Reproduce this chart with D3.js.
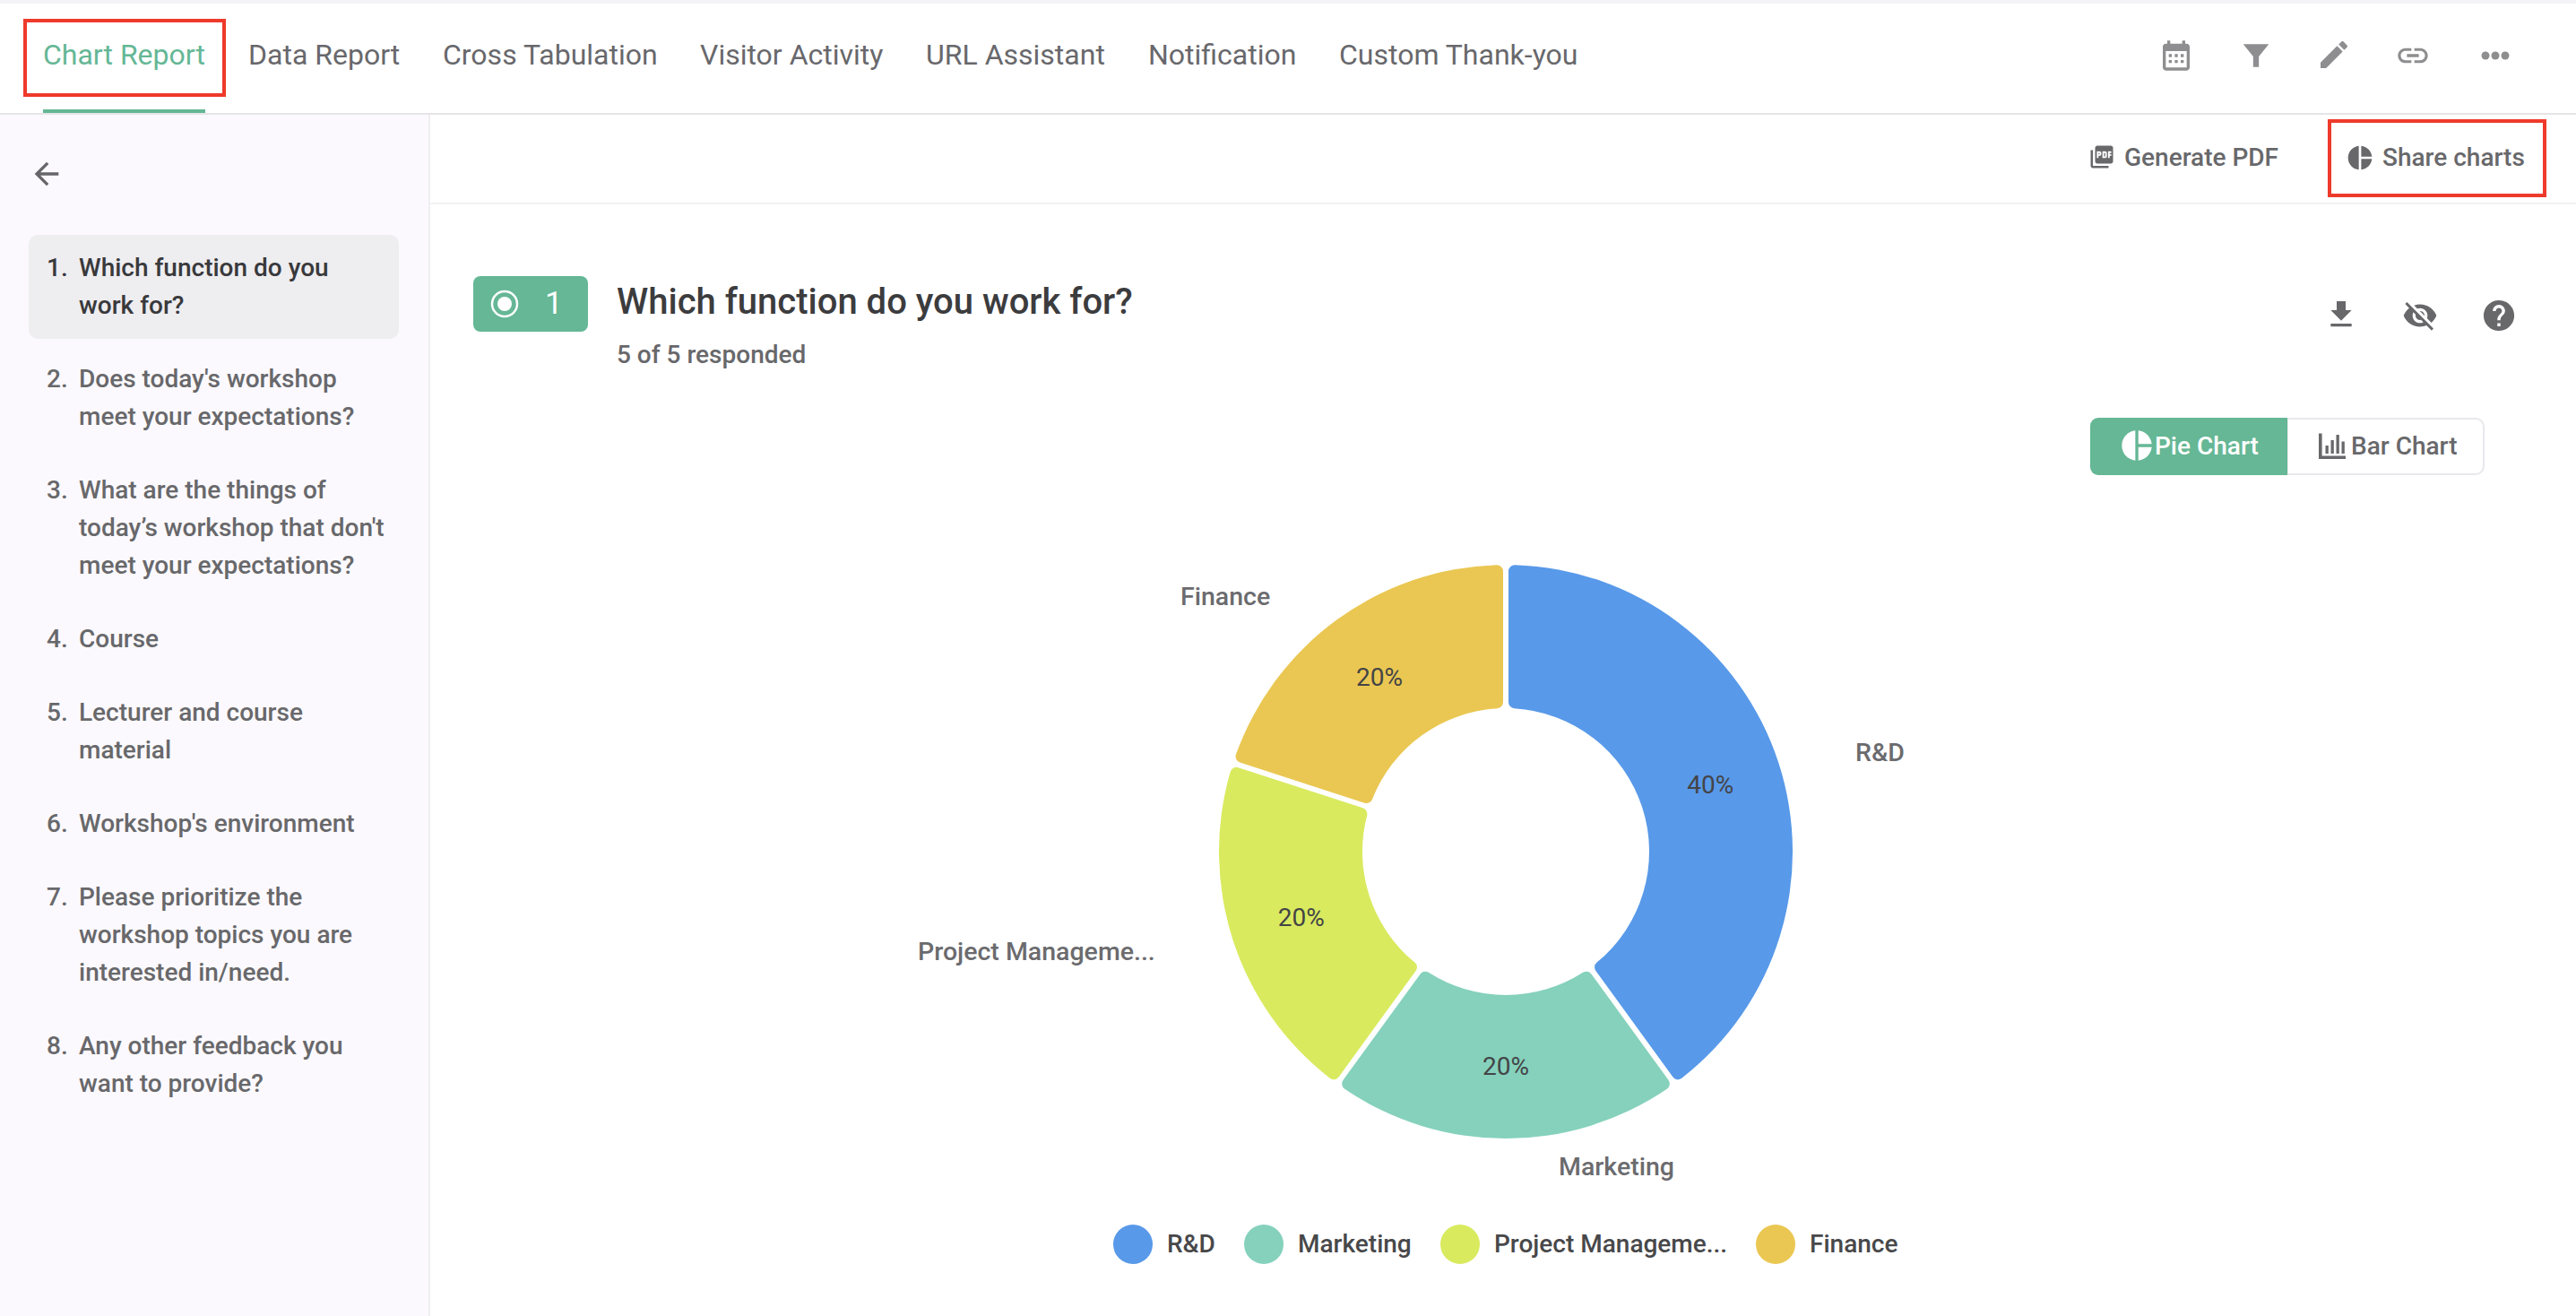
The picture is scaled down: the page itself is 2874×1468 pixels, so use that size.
<!DOCTYPE html>
<html>
<head>
<meta charset="utf-8">
<title>Chart Report</title>
<script src="https://cdn.jsdelivr.net/npm/d3@7"></script>
<style>
  html, body { margin: 0; padding: 0; background: #fff; }
  svg { display: block; }
  text { font-family: Roboto, sans-serif; }
</style>
</head>
<body>
<div id="page"></div>
<script>
// Chart values
const categories = ["R&D", "Marketing", "Project Manageme...", "Finance"];
const responses = [2, 1, 1, 1];
const sliceColors = ["#5899e9", "#85d1bc", "#d9ea5f", "#eac752"];

// Page texts
const navTabs = ["Chart Report", "Data Report", "Cross Tabulation", "Visitor Activity", "URL Assistant", "Notification", "Custom Thank-you"];
const questions = [
  ["Which function do you", "work for?"],
  ["Does today's workshop", "meet your expectations?"],
  ["What are the things of", "today’s workshop that don't", "meet your expectations?"],
  ["Course"],
  ["Lecturer and course", "material"],
  ["Workshop's environment"],
  ["Please prioritize the", "workshop topics you are", "interested in/need."],
  ["Any other feedback you", "want to provide?"]
];

const width = 2874, height = 1468;
const green = "#65b795", red = "#ee3a2b";

const svg = d3.select("#page").append("svg")
    .attr("width", width)
    .attr("height", height)
    .attr("viewBox", `0 0 ${width} ${height}`);

//Material icon paths, all in a 24x24 box
const iconPaths = {
  edit: "M3 17.25V21h3.75L17.81 9.94l-3.75-3.75L3 17.25zM20.71 7.04c.39-.39.39-1.02 0-1.41l-2.34-2.34c-.39-.39-1.02-.39-1.41 0l-1.83 1.83 3.75 3.75 1.83-1.83z",
  link: "M3.9 12c0-1.71 1.39-3.1 3.1-3.1h4V7H7c-2.76 0-5 2.24-5 5s2.24 5 5 5h4v-1.9H7c-1.71 0-3.1-1.39-3.1-3.1zM8 13h8v-2H8v2zm9-6h-4v1.9h4c1.71 0 3.1 1.39 3.1 3.1s-1.39 3.1-3.1 3.1h-4V17h4c2.76 0 5-2.24 5-5s-2.24-5-5-5z",
  pdf: "M20 2H8c-1.1 0-2 .9-2 2v12c0 1.1.9 2 2 2h12c1.1 0 2-.9 2-2V4c0-1.1-.9-2-2-2zm-8.5 7.5c0 .83-.67 1.5-1.5 1.5H9v2H7.5V7H10c.83 0 1.5.67 1.5 1.5v1zm5 2c0 .83-.67 1.5-1.5 1.5h-2.5V7H15c.83 0 1.5.67 1.5 1.5v3zm4-3H19v1h1.5V11H19v2h-1.5V7h3v1.5zM9 9.5h1v-1H9v1zM4 6H2v14c0 1.1.9 2 2 2h14v-2H4V6zm10 5.5h1v-3h-1v3z",
  download: "M19 9h-4V3H9v6H5l7 7 7-7zM5 18v2h14v-2H5z",
  eyeOff: "M12 7c2.76 0 5 2.24 5 5 0 .65-.13 1.26-.36 1.83l2.92 2.92c1.51-1.26 2.7-2.89 3.43-4.75-1.73-4.39-6-7.5-11-7.5-1.4 0-2.74.25-3.98.7l2.16 2.16C10.74 7.13 11.35 7 12 7zM2 4.27l2.28 2.28.46.46C3.08 8.3 1.78 10.02 1 12c1.73 4.39 6 7.5 11 7.5 1.55 0 3.03-.3 4.38-.84l.42.42L19.73 22 21 20.73 3.27 3 2 4.27zM7.53 9.8l1.55 1.55c-.05.21-.08.43-.08.65 0 1.66 1.34 3 3 3 .22 0 .44-.03.65-.08l1.55 1.55c-.67.33-1.41.53-2.2.53-2.76 0-5-2.24-5-5 0-.79.2-1.53.53-2.2zm4.31-.78l3.15 3.15.02-.16c0-1.66-1.34-3-3-3l-.17.01z",
  help: "M12 2C6.48 2 2 6.48 2 12s4.48 10 10 10 10-4.48 10-10S17.52 2 12 2zm1 17h-2v-2h2v2zm2.07-7.75l-.9.92C13.45 12.9 13 13.5 13 15h-2v-.5c0-1.1.45-2.1 1.17-2.83l1.24-1.26c.37-.36.59-.86.59-1.41 0-1.1-.9-2-2-2s-2 .9-2 2H8c0-2.21 1.79-4 4-4s4 1.79 4 4c0 .88-.36 1.68-.93 2.25z",
  pie: "M11 2v20c-5.07-.5-9-4.79-9-10s3.93-9.5 9-10zm2.03 0v8.99H22c-.47-4.74-4.24-8.52-8.97-8.99zm0 11.01V22c4.74-.47 8.5-4.25 8.97-8.99h-8.97z",
  back: "M20 11H7.83l5.59-5.59L12 4l-8 8 8 8 1.41-1.41L7.83 13H20v-2z",
  filter: "M3 4h18l-7 8.6V20h-4v-7.4z",
  calendar: "M19 4h-1V2h-2v2H8V2H6v2H5c-1.1 0-2 .9-2 2v14c0 1.1.9 2 2 2h14c1.1 0 2-.9 2-2V6c0-1.1-.9-2-2-2zm0 16H5V9h14v11zM7 11h2v2H7zm4 0h2v2h-2zm4 0h2v2h-2zM7 15h2v2H7zm4 0h2v2h-2zm4 0h2v2h-2z",
  bars: "M2 3h2.4v16.6H22V22H2zM7 12h2.2v6H7zM11 8h2.2v10H11zM15 4h2.2v14H15zM19 9h2.2v9H19z"
};

function icon(name, cx, cy, size, fill) {
  svg.append("path")
      .attr("d", iconPaths[name])
      .attr("transform", `translate(${cx - size/2},${cy - size/2}) scale(${size/24})`)
      .attr("fill", fill);
}

function label(txt, x, y, size, fill, weight) {
  return svg.append("text")
      .attr("x", x)
      .attr("y", y)
      .attr("font-size", size)
      .attr("fill", fill)
      .attr("font-weight", weight || 400)
      .text(txt);
}

function redBox(x, y, w, h) {
  svg.append("rect")
      .attr("x", x + 2).attr("y", y + 2)
      .attr("width", w - 4).attr("height", h - 4)
      .attr("fill", "none")
      .attr("stroke", red)
      .attr("stroke-width", 4);
}

//-------------------------------page frame---------------------------------

svg.append("rect").attr("width", width).attr("height", 4).attr("fill", "#f4f3f6");
svg.append("rect").attr("x", 0).attr("y", 128).attr("width", 478).attr("height", height - 128).attr("fill", "#fbf9fd");
svg.append("rect").attr("x", 478).attr("y", 128).attr("width", 2).attr("height", height - 128).attr("fill", "#efeef2");
svg.append("rect").attr("x", 0).attr("y", 126).attr("width", width).attr("height", 2).attr("fill", "#e5e5e8");
svg.append("rect").attr("x", 480).attr("y", 226).attr("width", width - 480).attr("height", 2).attr("fill", "#f3f2f5");

//-------------------------------top tabs-----------------------------------

const tabX = [48, 277, 494, 781, 1033, 1281, 1494];
navTabs.forEach((t, i) => label(t, tabX[i], 72, 32, i === 0 ? green : "#68686c"));
svg.append("rect").attr("x", 48).attr("y", 122).attr("width", 181).attr("height", 4).attr("fill", green);
redBox(26, 21, 226, 87);

icon("calendar", 2428, 62, 40, "#8e8e90");
icon("filter", 2517, 62, 38, "#8e8e90");
icon("edit", 2604, 61, 40, "#8e8e90");
icon("link", 2692, 62, 40, "#8e8e90");
svg.selectAll("circle.dot").data([2773, 2784, 2795]).join("circle")
    .attr("class", "dot")
    .attr("cx", d => d).attr("cy", 62).attr("r", 4.5)
    .attr("fill", "#8e8e90");

//-------------------------------side list----------------------------------

svg.append("rect").attr("x", 32).attr("y", 262).attr("width", 413).attr("height", 116).attr("rx", 10).attr("fill", "#eeedf0");
icon("back", 52, 194, 40, "#666669");

let lineY = 308;
questions.forEach((lines, i) => {
  let col = i === 0 ? "#39393c" : "#68686b";
  label((i + 1) + ".", 52, lineY, 28, col, 500);
  lines.forEach(l => {
    label(l, 88, lineY, 28, col, 500);
    lineY += 42;
  });
  lineY += 40;
});

//-------------------------------toolbar------------------------------------

icon("pdf", 2345, 175, 30, "#68686b");
label("Generate PDF", 2370, 185, 28, "#68686b", 500);
icon("pie", 2633, 176, 32, "#68686b");
label("Share charts", 2658, 185, 28, "#68686b", 500);
redBox(2597, 133, 244, 87);

//-------------------------------question head------------------------------

svg.append("rect").attr("x", 528).attr("y", 308).attr("width", 128).attr("height", 62).attr("rx", 8).attr("fill", green);
svg.append("circle").attr("cx", 563).attr("cy", 339).attr("r", 14).attr("fill", "none").attr("stroke", "#fff").attr("stroke-width", 2.5);
svg.append("circle").attr("cx", 563).attr("cy", 339).attr("r", 8).attr("fill", "#fff");
label("1", 608, 350, 35, "#fff");

label("Which function do you work for?", 688, 350, 40, "#3c3c3e", 500);
label("5 of 5 responded", 688, 405, 28, "#68686b", 500);

icon("download", 2612, 351, 40, "#68686b");
icon("eyeOff", 2700, 352, 40, "#68686b");
icon("help", 2788, 352, 41, "#68686b");

//-------------------------------chart type switch--------------------------

svg.append("path")
    .attr("d", "M2552 467H2762a9 9 0 0 1 9 9V520a9 9 0 0 1 -9 9H2552z")
    .attr("fill", "#fff")
    .attr("stroke", "#e8e8ec")
    .attr("stroke-width", 2);
svg.append("path")
    .attr("d", "M2552 466H2341a9 9 0 0 0 -9 9V521a9 9 0 0 0 9 9H2552z")
    .attr("fill", green);
icon("pie", 2384, 497, 40, "#fff");
label("Pie Chart", 2404, 507, 28, "#fff", 500);
icon("bars", 2602, 497, 36, "#68686b");
label("Bar Chart", 2623, 507, 28, "#68686b", 500);

//-------------------------------donut--------------------------------------

const cx = 1680, cy = 950;
const outerR = 320, innerR = 160;
const total = d3.sum(responses);

const color = d3.scaleOrdinal().domain(categories).range(sliceColors);
const pie = d3.pie().value((d, i) => responses[i]).sort(null);
const arc = d3.arc()
    .innerRadius(innerR)
    .outerRadius(outerR)
    .padAngle(6/outerR)
    .padRadius(outerR)
    .cornerRadius(7);

const arcs = pie(categories);
const donut = svg.append("g").attr("transform", `translate(${cx},${cy})`);

donut.selectAll("path").data(arcs).join("path")
    .attr("d", arc)
    .attr("fill", d => color(d.data));

donut.selectAll("text").data(arcs).join("text")
    .attr("x", d => arc.centroid(d)[0])
    .attr("y", d => arc.centroid(d)[1] + 9)
    .attr("text-anchor", "middle")
    .attr("font-size", 28)
    .attr("fill", "#444446")
    .text(d => d3.format(".0%")(d.value/total));

//Outer labels sit where the original chart put them, not on the mid angle
const outerLabelPos = [[2070, 849], [1739, 1311], [1024, 1071], [1317, 675]];
svg.selectAll("text.outer").data(categories).join("text")
    .attr("class", "outer")
    .attr("x", (d, i) => outerLabelPos[i][0])
    .attr("y", (d, i) => outerLabelPos[i][1])
    .attr("font-size", 28.5)
    .attr("font-weight", 500)
    .attr("fill", "#6b6b6e")
    .text(d => d);

//-------------------------------legend-------------------------------------

const legendX = [1264, 1410, 1629, 1981];
const legend = svg.selectAll("g.legend").data(categories).join("g")
    .attr("class", "legend")
    .attr("transform", (d, i) => `translate(${legendX[i]},1388)`);

legend.append("circle")
    .attr("r", 22)
    .attr("fill", d => color(d));

legend.append("text")
    .attr("x", 38)
    .attr("y", 9)
    .attr("font-size", 28)
    .attr("font-weight", 500)
    .attr("fill", "#48484a")
    .text(d => d);
</script>
</body>
</html>
